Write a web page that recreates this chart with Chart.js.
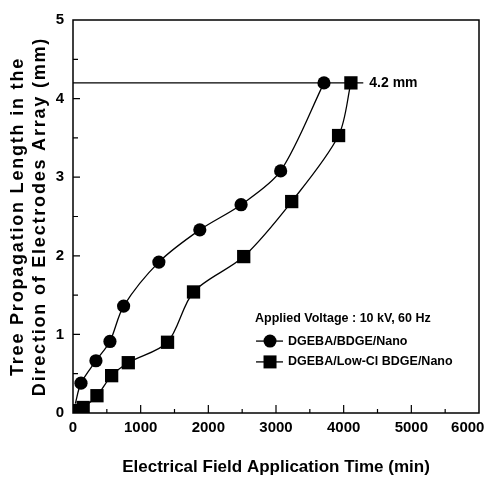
<!DOCTYPE html>
<html>
<head>
<meta charset="utf-8">
<script src="https://cdn.jsdelivr.net/npm/chart.js@4/dist/chart.umd.min.js"></script>
<style>
  html, body { margin: 0; padding: 0; background: #fff; }
  #wrap { width: 489px; height: 478px; position: relative; }
</style>
</head>
<body>
<div id="wrap"><canvas id="chart"></canvas></div>
<script>
// series
const bdgeTime = [34, 118, 339, 546, 748, 1269, 1874, 2484, 3069, 3709];
const bdgeLength = [0.12, 0.38, 0.665, 0.91, 1.36, 1.92, 2.33, 2.65, 3.08, 4.2];
const lowClTime = [30, 150, 354, 571, 817, 1397, 1781, 2523, 3232, 3925, 4107];
const lowClLength = [0.03, 0.07, 0.22, 0.475, 0.64, 0.9, 1.54, 1.99, 2.69, 3.53, 4.2];
const limitTime = [0, 4290];
const limitLength = [4.2, 4.2];
const seriesNames = ['DGEBA/BDGE/Nano', 'DGEBA/Low-Cl BDGE/Nano'];
const legendHeader = 'Applied Voltage : 10 kV, 60 Hz';
const limitLabel = '4.2 mm';
const xTicks = [0, 1000, 2000, 3000, 4000, 5000, 6000];
const yTicks = [0, 1, 2, 3, 4, 5];

const FONT = '"Liberation Sans", Arial, sans-serif';
const toPoints = (xs, ys) => xs.map((x, i) => ({ x: x, y: ys[i] }));

// wider tracking for the y axis title, like the original
function spacedTitle(scale, spacing) {
  if (scale._spaced) return;
  scale._spaced = true;
  const orig = scale.drawTitle;
  scale.drawTitle = function () {
    const ctx = this.ctx;
    const prev = ctx.letterSpacing;
    ctx.letterSpacing = spacing;
    orig.apply(this, arguments);
    ctx.letterSpacing = prev || '0px';
  };
}

const frame = {
  id: 'frame',
  afterDatasetsDraw(chart) {
    const { ctx, chartArea: a, scales } = chart;
    ctx.save();
    ctx.strokeStyle = '#000';
    ctx.lineWidth = 1.5;
    ctx.strokeRect(a.left, a.top, a.right - a.left, a.bottom - a.top);
    ctx.lineWidth = 1.2;
    ctx.beginPath();
    for (let v = 500; v < 6000; v += 500) {
      const px = scales.x.getPixelForValue(v);
      const len = v % 1000 === 0 ? 8 : 4;
      ctx.moveTo(px, a.bottom);
      ctx.lineTo(px, a.bottom - len);
    }
    for (let v = 0.5; v < 5; v += 0.5) {
      const py = scales.y.getPixelForValue(v);
      const len = Math.abs(v % 1) < 1e-6 ? 7 : 5;
      ctx.moveTo(a.left, py);
      ctx.lineTo(a.left + len, py);
    }
    ctx.stroke();

    // 4.2 mm label at the end of the limit line
    ctx.fillStyle = '#000';
    ctx.font = 'bold 14px ' + FONT;
    ctx.textBaseline = 'middle';
    ctx.fillText(limitLabel, scales.x.getPixelForValue(limitTime[1]) + 6, scales.y.getPixelForValue(4.2));

    // legend box
    const lx = scales.x.getPixelForValue(2690);
    const y0 = scales.y.getPixelForValue(1.2);
    ctx.font = 'bold 12.5px ' + FONT;
    ctx.fillText(legendHeader, lx, y0);
    const rows = [scales.y.getPixelForValue(0.915), scales.y.getPixelForValue(0.65)];
    rows.forEach((ry, i) => {
      ctx.beginPath();
      ctx.lineWidth = 1.3;
      ctx.moveTo(lx + 1, ry);
      ctx.lineTo(lx + 28, ry);
      ctx.stroke();
      if (i === 0) {
        ctx.beginPath();
        ctx.arc(lx + 15, ry, 6.5, 0, Math.PI * 2);
        ctx.fill();
      } else {
        ctx.fillRect(lx + 15 - 6.5, ry - 6.5, 13, 13);
      }
      ctx.fillText(seriesNames[i], lx + 33, ry);
    });
    ctx.restore();
  }
};

new Chart(document.getElementById('chart'), {
  type: 'scatter',
  data: {
    datasets: [
      {
        label: seriesNames[0],
        data: toPoints(bdgeTime, bdgeLength),
        showLine: true,
        borderColor: '#000',
        backgroundColor: '#000',
        borderWidth: 1.3,
        tension: 0.3,
        pointStyle: 'circle',
        pointRadius: bdgeTime.map((t, i) => (i === 0 ? 0 : 6.6)),
        pointBorderWidth: 0
      },
      {
        label: seriesNames[1],
        data: toPoints(lowClTime, lowClLength),
        showLine: true,
        borderColor: '#000',
        backgroundColor: '#000',
        borderWidth: 1.3,
        tension: 0.3,
        pointStyle: 'rect',
        pointRadius: 9.4,
        pointBorderWidth: 0
      },
      {
        label: 'limit',
        data: toPoints(limitTime, limitLength),
        showLine: true,
        borderColor: '#000',
        borderWidth: 1.3,
        tension: 0,
        pointRadius: 0
      }
    ]
  },
  options: {
    responsive: true,
    maintainAspectRatio: false,
    animation: false,
    layout: { padding: { top: 20, right: 10, left: 0, bottom: 0 } },
    plugins: { legend: { display: false }, tooltip: { enabled: false } },
    scales: {
      x: {
        type: 'linear',
        min: 0,
        max: 6000,
        afterFit: (s) => { s.height = 65; s.paddingRight = 0; s.paddingLeft = 0; },
        afterBuildTicks: (s) => { s.ticks = xTicks.map((v) => ({ value: v })); },
        grid: { display: false, drawTicks: false },
        border: { display: false },
        ticks: {
          color: '#000',
          padding: 6,
          maxRotation: 0,
          font: { family: FONT, size: 15, weight: 'bold' },
          // last label sits just inside the right edge in the original
          callback: (v) => (v === 6000 ? String(v) + '\u2002\u2002\u2002' : String(v))
        },
        title: {
          display: true,
          text: 'Electrical Field Application Time (min)',
          color: '#000',
          padding: { top: 0, bottom: 0 },
          font: { family: FONT, size: 17, weight: 'bold', lineHeight: 1.2 }
        }
      },
      y: {
        type: 'linear',
        min: 0,
        max: 5,
        afterFit: (s) => { s.width = 73; spacedTitle(s, '1.8px'); },
        afterBuildTicks: (s) => { s.ticks = yTicks.map((v) => ({ value: v })); },
        grid: { display: false, drawTicks: false },
        border: { display: false },
        ticks: { color: '#000', padding: 9, font: { family: FONT, size: 15, weight: 'bold' } },
        title: {
          display: true,
          text: ['Tree Propagation Length in the', 'Direction of Electrodes Array (mm)'],
          color: '#000',
          padding: { top: 7, bottom: 0 },
          font: { family: FONT, size: 18, weight: 'bold', lineHeight: 1.22 }
        }
      }
    }
  },
  plugins: [frame]
});
</script>
</body>
</html>
